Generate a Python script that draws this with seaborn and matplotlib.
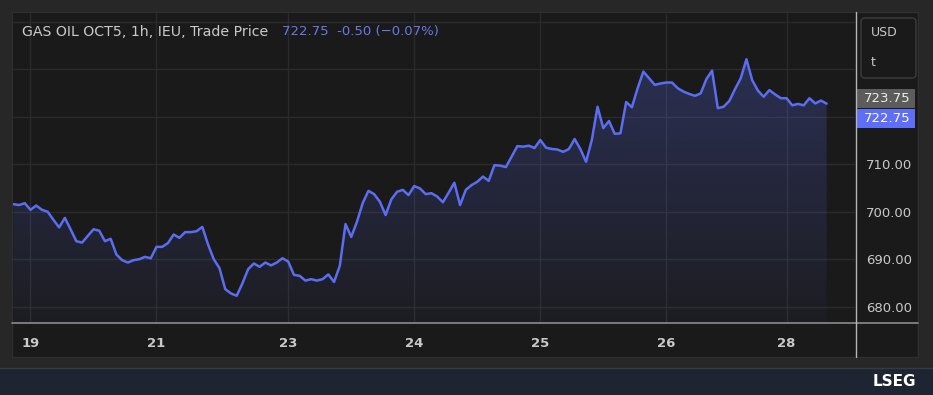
import numpy as np
import pandas as pd
import matplotlib
matplotlib.use("Agg")
import matplotlib.pyplot as plt
from matplotlib.patches import Rectangle, FancyBboxPatch
import seaborn as sns

# hourly bars of the session, price in USD/t
bars = list(range(143))
price = [
    701.6, 701.4, 701.8, 700.4, 701.3, 700.4, 700.0, 698.3, 696.7, 698.7,
    696.3, 693.8, 693.5, 694.9, 696.3, 696.0, 693.8, 694.3, 691.0, 689.8,
    689.3, 689.8, 690.0, 690.5, 690.2, 692.6, 692.6, 693.4, 695.2, 694.5,
    695.7, 695.7, 695.9, 696.8, 693.1, 690.0, 688.1, 683.7, 682.8, 682.3,
    684.9, 687.9, 689.1, 688.4, 689.3, 688.7, 689.3, 690.2, 689.5, 686.7,
    686.5, 685.5, 685.8, 685.5, 685.8, 686.8, 685.2, 688.6, 697.4, 694.7,
    697.9, 701.8, 704.4, 703.7, 702.1, 699.3, 702.6, 704.2, 704.6, 703.5,
    705.4, 704.9, 703.7, 703.9, 703.2, 702.0, 704.0, 706.1, 701.4, 704.6,
    705.6, 706.3, 707.4, 706.5, 709.8, 709.7, 709.4, 711.6, 713.8, 713.7,
    713.9, 713.4, 715.1, 713.5, 713.2, 713.1, 712.6, 713.2, 715.3, 713.2,
    710.5, 715.1, 722.1, 717.6, 719.1, 716.4, 716.5, 723.1, 722.0, 726.0,
    729.5, 728.1, 726.7, 727.0, 727.2, 727.2, 726.0, 725.3, 724.8, 724.4,
    724.9, 727.9, 729.7, 721.8, 722.1, 723.3, 725.8, 728.1, 732.1, 727.7,
    725.5, 724.2, 725.6, 724.7, 723.9, 723.9, 722.4, 722.7, 722.4, 723.9,
    722.8, 723.4, 722.75,
]
tick_bars = [3, 25, 48, 70, 92, 114, 135]
tick_days = ["19", "21", "23", "24", "25", "26", "28"]
price_ticks = [680, 690, 700, 710, 720, 730, 740]
shown_ticks = [680, 690, 700, 710]
last_price = 722.75
prev_close = 723.75
change = -0.50
change_pct = -0.07

df = pd.DataFrame({"bar": bars, "price": price})

LINE = "#5b6ef2"
TXT = "#c9c9c9"
PANEL = "#1a1a1a"

sns.set_style("dark")
plt.rcParams["font.family"] = ["DejaVu Sans"]

W, H = 933, 395
fig = plt.figure(figsize=(W / 100, H / 100), dpi=100)
fig.patch.set_facecolor("#272727")

# background layer in pixel coordinates
bg = fig.add_axes([0, 0, 1, 1], zorder=0)
bg.set_xlim(0, W)
bg.set_ylim(H, 0)
bg.axis("off")
bg.add_patch(Rectangle((12, 12), 906, 345, facecolor=PANEL, edgecolor="#2f2f2f", lw=1))
bg.add_patch(Rectangle((0, 368), W, 27, facecolor="#1e2432", edgecolor="none"))
bg.plot([0, W], [368, 368], color="#353a46", lw=1)

# main plot
x0, x1 = 12.5, 855
ytop, ybot = 12.7, 323
ax = fig.add_axes([x0 / W, (H - ybot) / H, (x1 - x0) / W, (ybot - ytop) / H], zorder=1)
ax.set_facecolor(PANEL)

sns.lineplot(data=df, x="bar", y="price", ax=ax, color=LINE, lw=1.8, zorder=3)

xlim = (-0.14, 146.95)
ylim = (676.57, 741.9)
ax.set_xlim(xlim)
ax.set_ylim(ylim)

# gradient fill under the line
poly = ax.fill_between(df["bar"], df["price"], ylim[0], color="none", lw=0)
n = 256
alpha = np.linspace(0.04, 0.30, n)[:, None]
rgba = np.zeros((n, 1, 4))
rgba[..., :3] = matplotlib.colors.to_rgb(LINE)
rgba[..., 3] = alpha
img = ax.imshow(rgba, extent=[xlim[0], xlim[1], ylim[0], ylim[1]], origin="lower",
                aspect="auto", zorder=2)
img.set_clip_path(poly.get_paths()[0], transform=ax.transData)

ax.set_xticks(tick_bars)
ax.set_xticklabels(tick_days)
ax.set_yticks(price_ticks)
ax.set_yticklabels([f"{v:.2f}" if v in shown_ticks else "" for v in price_ticks])
ax.yaxis.tick_right()
ax.tick_params(axis="x", length=0, pad=10, labelsize=9.5, labelcolor=TXT)
ax.tick_params(axis="y", length=0, pad=8, labelsize=9.5, labelcolor=TXT)
for lbl in ax.get_xticklabels():
    lbl.set_fontweight("semibold")
ax.grid(True, color="#2b2b2b", lw=1)
for s in ax.spines.values():
    s.set_visible(False)
ax.set_xlabel("")
ax.set_ylabel("")

# foreground layer: separators, header, price boxes
fg = fig.add_axes([0, 0, 1, 1], zorder=3)
fg.set_xlim(0, W)
fg.set_ylim(H, 0)
fg.axis("off")
fg.patch.set_alpha(0)
fg.plot([12, 918], [323, 323], color="#8c8c8c", lw=1.2)
fg.plot([855.5, 855.5], [12, 357], color="#b5b5b5", lw=1)

fg.text(22, 32, "GAS OIL OCT5, 1h, IEU, Trade Price", color=TXT, fontsize=10.2, va="center")
fg.text(282, 32, f"{last_price:.2f}  {change:.2f} (\u2212{abs(change_pct):.2f}%)",
        color="#6a78ea", fontsize=9.5, va="center")

fg.add_patch(FancyBboxPatch((861, 18), 55, 60, boxstyle="round,pad=0,rounding_size=4",
                            facecolor=PANEL, edgecolor="#3d3d3d", lw=1))
fg.text(871, 33, "USD", color=TXT, fontsize=9, va="center")
fg.text(871, 63, "t", color=TXT, fontsize=9, va="center")

fg.add_patch(Rectangle((856, 89), 59, 19, facecolor="#5c5c5c", edgecolor="none"))
fg.text(887, 98.5, f"{prev_close:.2f}", color="#ececec", fontsize=9.5, ha="center", va="center")
fg.add_patch(Rectangle((856, 109), 59, 19, facecolor="#5f6ff5", edgecolor="none"))
fg.text(887, 118.5, f"{last_price:.2f}", color="white", fontsize=9.5, ha="center", va="center")

fg.text(916, 382, "LSEG", color="white", fontsize=11, fontweight="bold", ha="right", va="center")

fig.savefig("out.png", dpi=100, facecolor=fig.get_facecolor())
